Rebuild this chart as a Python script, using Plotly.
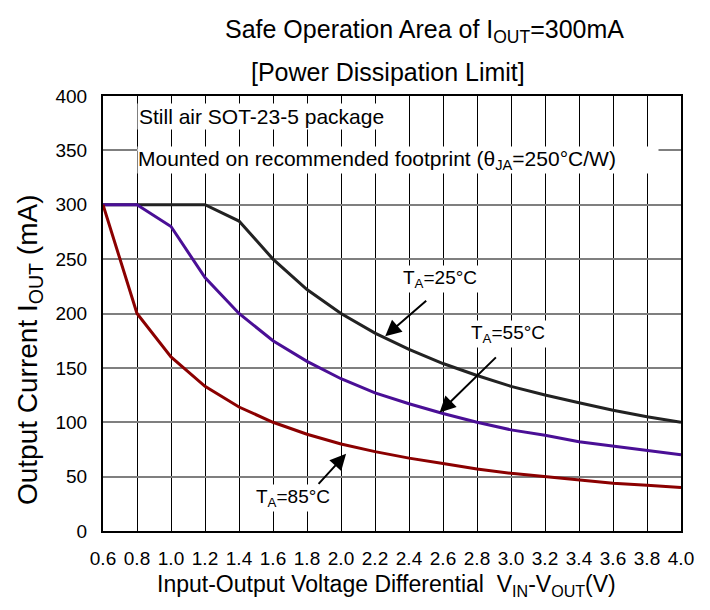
import plotly.graph_objects as go

# Input-output voltage differential (V)
v_diff = [0.6, 0.8, 1.0, 1.2, 1.4, 1.6, 1.8, 2.0, 2.2, 2.4, 2.6, 2.8,
          3.0, 3.2, 3.4, 3.6, 3.8, 4.0]

# Maximum output current (mA) for each ambient temperature
i_ta25 = [300, 300, 300, 300, 285, 250, 222, 200, 182, 167, 154, 143,
          133, 125, 118, 111, 105, 100]
i_ta55 = [300, 300, 280, 233, 200, 175, 156, 140, 127, 117, 108, 100,
          93, 88, 82, 78, 74, 70]
i_ta85 = [300, 200, 160, 133, 114, 100, 89, 80, 73, 67, 62, 57,
          53, 50, 47, 44, 42, 40]

x_ticks = [0.6, 0.8, 1.0, 1.2, 1.4, 1.6, 1.8, 2.0, 2.2, 2.4, 2.6, 2.8,
           3.0, 3.2, 3.4, 3.6, 3.8, 4.0]
y_ticks = [0, 50, 100, 150, 200, 250, 300, 350, 400]

FONT = "Arial, 'Liberation Sans', sans-serif"

fig = go.Figure()
fig.add_trace(go.Scatter(x=v_diff, y=i_ta25, mode="lines",
                         line=dict(color="#222222", width=3)))
fig.add_trace(go.Scatter(x=v_diff, y=i_ta55, mode="lines",
                         line=dict(color="#4a0f96", width=3)))
fig.add_trace(go.Scatter(x=v_diff, y=i_ta85, mode="lines",
                         line=dict(color="#8b0000", width=3)))

annotations = []

# Titles
annotations.append(dict(text="Safe Operation Area of I<sub>OUT</sub>=300mA",
                        xref="paper", yref="paper", x=0.556, y=1.0, yshift=65,
                        yanchor="middle", showarrow=False, font=dict(size=25)))
annotations.append(dict(text="[Power Dissipation Limit]",
                        xref="paper", yref="paper", x=0.493, y=1.0, yshift=24,
                        yanchor="middle", showarrow=False, font=dict(size=25)))
annotations.append(dict(text="Input-Output Voltage Differential  V<sub>IN</sub>-V<sub>OUT</sub>(V)",
                        xref="paper", yref="paper", x=0.491, y=0.0, yshift=-54,
                        yanchor="middle", showarrow=False, font=dict(size=23)))
annotations.append(dict(text="Output Current I<sub>OUT</sub> (mA)",
                        xref="paper", yref="paper", x=0.0, y=0.416, xshift=-74,
                        xanchor="center", yanchor="middle",
                        textangle=-90, showarrow=False, font=dict(size=28)))

# Package notes
annotations.append(dict(text="Still air SOT-23-5 package",
                        xref="x", yref="y", x=0.8, y=381, xanchor="left",
                        showarrow=False, bgcolor="white", borderpad=1,
                        font=dict(size=21)))
annotations.append(dict(text="Mounted on recommended footprint (θ<sub>JA</sub>=250°C/W)",
                        xref="x", yref="y", x=0.8, y=341, xanchor="left",
                        align="left", width=520, height=26,
                        showarrow=False, bgcolor="white", borderpad=0,
                        font=dict(size=21)))

# Curve labels
annotations.append(dict(text="T<sub>A</sub>=25°C", xref="x", yref="y",
                        x=2.58, y=232, showarrow=False, bgcolor="white",
                        borderpad=1, font=dict(size=19)))
annotations.append(dict(text="T<sub>A</sub>=55°C", xref="x", yref="y",
                        x=2.98, y=181, showarrow=False, bgcolor="white",
                        borderpad=1, font=dict(size=19)))
annotations.append(dict(text="T<sub>A</sub>=85°C", xref="x", yref="y",
                        x=1.72, y=30, showarrow=False, bgcolor="white",
                        borderpad=1, font=dict(size=19)))

# Arrows pointing at the curves
for (hx, hy, tx, ty) in [(2.26, 179, 2.51, 213),
                         (2.58, 109, 2.92, 161),
                         (2.03, 71, 1.86, 42)]:
    annotations.append(dict(x=hx, y=hy, ax=tx, ay=ty, xref="x", yref="y",
                            axref="x", ayref="y", text="", showarrow=True,
                            arrowhead=2, arrowsize=1.6, arrowwidth=2,
                            arrowcolor="black"))

fig.update_layout(
    width=710, height=610,
    margin=dict(l=102.5, r=29, t=96, b=79),
    paper_bgcolor="white", plot_bgcolor="white",
    showlegend=False,
    font=dict(family=FONT, color="black", size=18),
    annotations=annotations,
)
fig.update_xaxes(range=[0.6, 4.0], tickvals=x_ticks,
                 ticktext=[f"{v:.1f}" for v in x_ticks],
                 showgrid=True, gridcolor="black", gridwidth=1,
                 showline=True, linecolor="black", linewidth=2, mirror=True,
                 zeroline=False, ticks="", ticklabelstandoff=9,
                 tickfont=dict(size=19))
fig.update_yaxes(range=[0, 400], tickvals=y_ticks,
                 showgrid=True, gridcolor="#7f7f7f", gridwidth=1.5,
                 showline=True, linecolor="black", linewidth=2, mirror=True,
                 zeroline=False, ticks="", ticklabelstandoff=10,
                 tickfont=dict(size=19))

fig.write_html("out.html")
